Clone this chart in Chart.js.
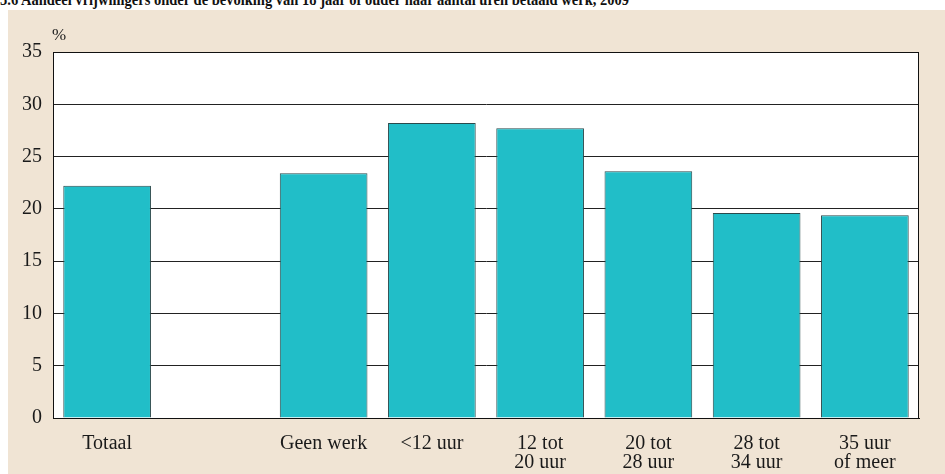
<!DOCTYPE html>
<html>
<head>
<meta charset="utf-8">
<script src="https://cdn.jsdelivr.net/npm/chart.js@4.4.0/dist/chart.umd.min.js"></script>
<style>
  body { margin: 0; background: #fff; width: 945px; height: 474px; overflow: hidden; position: relative; font-family: "Liberation Serif", serif; }
  #title { position: absolute; left: 0; top: -9px; font-size: 17px; line-height: 17px; font-weight: bold; white-space: nowrap; color: #111; transform-origin: 0 0; }
  #panel { position: absolute; left: 8px; top: 10px; width: 937px; height: 464px; background: #f0e4d4; }
  #unit { position: absolute; left: 44px; top: 15px; font-size: 17px; color: #222; }
</style>
</head>
<body>
<div id="title">5.6 Aandeel vrijwilligers onder de bevolking van 18 jaar of ouder naar aantal uren betaald werk, 2009</div>
<div id="panel">
  <div id="unit">%</div>
  <canvas id="myChart" width="937" height="464"></canvas>
</div>
<script>
const categories = ["Totaal", "", "Geen werk", "<12 uur", ["12 tot", "20 uur"], ["20 tot", "28 uur"], ["28 tot", "34 uur"], ["35 uur", "of meer"]];
const shares = [22.2, null, 23.4, 28.2, 27.7, 23.6, 19.6, 19.4];
const yTicks = [0, 5, 10, 15, 20, 25, 30, 35];

// squeeze the (cut off) title to the width it has in the source
const title = document.getElementById('title');
title.style.transform = 'scaleX(' + (629 / title.scrollWidth) + ')';

// white plot area with a black frame
const plotFrame = {
    id: 'plotFrame',
    beforeDraw(chart) {
        const a = chart.chartArea;
        const ctx = chart.ctx;
        ctx.save();
        ctx.fillStyle = '#ffffff';
        ctx.fillRect(a.left, a.top, a.right - a.left, a.bottom - a.top);
        ctx.restore();
    },
    afterDraw(chart) {
        const a = chart.chartArea;
        const ctx = chart.ctx;
        ctx.save();
        ctx.strokeStyle = '#111';
        ctx.lineWidth = 1;
        ctx.strokeRect(a.left + 0.5, a.top + 0.5, a.right - a.left - 1, a.bottom - a.top);
        ctx.restore();
    }
};

const ctx = document.getElementById('myChart');

new Chart(ctx, {
    type: 'bar',
    data: {
        labels: categories,
        datasets: [{
            data: shares,
            backgroundColor: '#21bec8',
            borderColor: '#2a4a4c',
            borderWidth: 1,
            categoryPercentage: 1,
            barPercentage: 0.81
        }]
    },
    options: {
        responsive: false,
        animation: false,
        layout: { padding: { top: 42, right: 26, left: 0, bottom: 0 } },
        plugins: {
            legend: { display: false },
            tooltip: { enabled: false }
        },
        scales: {
            x: {
                grid: { display: false },
                border: { color: '#111' },
                ticks: {
                    color: '#1a1a1a',
                    font: { family: 'Liberation Serif', size: 20, lineHeight: 0.95 },
                    padding: 8,
                    maxRotation: 0,
                    autoSkip: false
                },
                afterFit: (scale) => { scale.height = 56; }
            },
            y: {
                min: 0,
                max: 35,
                afterBuildTicks: (scale) => { scale.ticks = yTicks.map(v => ({ value: v })); },
                grid: { color: '#222', lineWidth: 1, drawTicks: false },
                border: { color: '#111' },
                ticks: {
                    color: '#1a1a1a',
                    font: { family: 'Liberation Serif', size: 20 },
                    padding: 11
                },
                afterFit: (scale) => { scale.width = 45; }
            }
        }
    },
    plugins: [plotFrame]
});
</script>
</body>
</html>
